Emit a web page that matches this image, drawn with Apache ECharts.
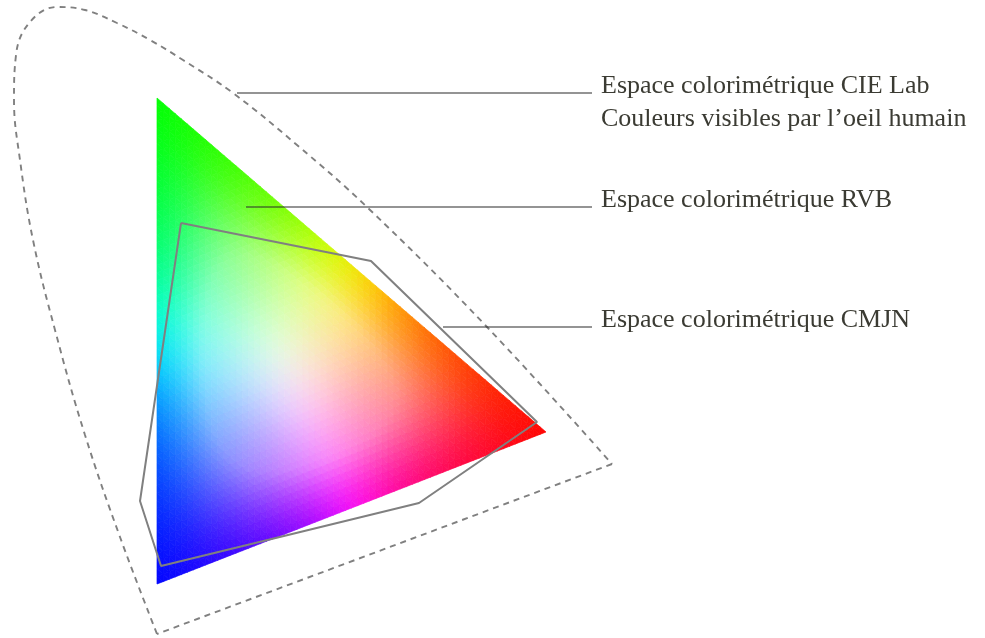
<!DOCTYPE html>
<html>
<head>
<meta charset="utf-8">
<script src="https://cdn.jsdelivr.net/npm/echarts@6/dist/echarts.min.js"></script>
<style>
  html, body { margin: 0; padding: 0; background: #fff; }
  #chart { width: 985px; height: 638px; }
</style>
</head>
<body>
<div id="chart"></div>
<script>
// plan de travail en pixels (axes cachés)
var W = 985, H = 638;

// sommets du triangle RVB : vert, rouge, bleu
var rvbVertices = [[157, 98], [546, 432], [157, 584]];

// contour CMJN
var cmjnPolygon = [[181, 223], [371, 261], [537, 422], [419, 503], [161, 566], [140, 501], [181, 223]];

// contour CIE Lab (partie courbe + base droite)
var labCurve = [
  [157, 634], [120, 537], [85, 435], [55, 330], [33, 240], [20, 160], [14, 100],
  [16, 55], [30, 22], [57, 7], [85, 10], [117, 23], [150, 40], [183, 60],
  [233, 93], [297, 145], [368, 208], [487, 327], [612, 464]
];
var labBase = [[612, 464], [157, 634]];

// traits de rappel et légendes
var leaderLab = [[237, 93], [592, 93]];
var leaderRvb = [[246, 207], [592, 207]];
var leaderCmjn = [[443, 327], [592, 327]];
var labelLab = 'Espace colorimétrique CIE Lab\nCouleurs visibles par l’oeil humain';
var labelRvb = 'Espace colorimétrique RVB';
var labelCmjn = 'Espace colorimétrique CMJN';

var textColor = '#3b3b33';
var fontFamily = '"Liberation Serif", "DejaVu Serif", serif';

// couleur normalisée (max = 1) pour des poids barycentriques
function pureColor(wr, wb) {
  var wg = 1 - wr - wb;
  wr = Math.max(wr, 0); wb = Math.max(wb, 0); wg = Math.max(wg, 0);
  var m = Math.max(wr, wg, wb) || 1;
  return [wr / m, wg / m, wb / m];
}

// moyenne sur un petit voisinage pour adoucir les arêtes,
// puis éclaircissement vers le centre (bords et sommets restent saturés)
function smoothColor(wr, wb) {
  var s = 0.035, acc = [0, 0, 0], n = 0;
  for (var a = -2; a <= 2; a++) {
    for (var b = -2; b <= 2; b++) {
      var c = pureColor(wr + a * s, wb + b * s);
      acc[0] += c[0]; acc[1] += c[1]; acc[2] += c[2]; n++;
    }
  }
  var wg = 1 - wr - wb;
  var p = 27 * Math.max(wr, 0) * Math.max(wg, 0) * Math.max(wb, 0);
  var gamma = 1 - 0.5 * Math.min(1, 1.6 * p);
  var out = acc.map(function (v) { return Math.round(Math.pow(v / n, gamma) * 255); });
  return 'rgb(' + out.join(',') + ')';
}

function renderGamut(params, api) {
  var N = 64;
  var g = rvbVertices[0], r = rvbVertices[1], b = rvbVertices[2];
  var children = [];
  function pt(i, j) {
    return api.coord([
      g[0] + (r[0] - g[0]) * i / N + (b[0] - g[0]) * j / N,
      g[1] + (r[1] - g[1]) * i / N + (b[1] - g[1]) * j / N
    ]);
  }
  for (var i = 0; i < N; i++) {
    for (var j = 0; i + j < N; j++) {
      var c = smoothColor((i + 1 / 3) / N, (j + 1 / 3) / N);
      children.push({
        type: 'polygon',
        shape: { points: [pt(i, j), pt(i + 1, j), pt(i, j + 1)] },
        style: { fill: c, stroke: c, lineWidth: 0.7 }
      });
      if (i + j + 2 <= N) {
        var c2 = smoothColor((i + 2 / 3) / N, (j + 2 / 3) / N);
        children.push({
          type: 'polygon',
          shape: { points: [pt(i + 1, j), pt(i + 1, j + 1), pt(i, j + 1)] },
          style: { fill: c2, stroke: c2, lineWidth: 0.7 }
        });
      }
    }
  }
  return { type: 'group', children: children };
}

function leaderSeries(data, text) {
  return {
    type: 'line',
    data: data,
    showSymbol: false,
    silent: true,
    z: 5,
    lineStyle: { color: '#2a2a2a', width: 1.2 },
    endLabel: {
      show: true,
      formatter: function () { return text; },
      color: textColor,
      fontFamily: fontFamily,
      fontSize: 26,
      lineHeight: 33,
      distance: 9,
      align: 'left',
      verticalAlign: 'top',
      offset: [0, -23]
    }
  };
}

var chart = echarts.init(document.getElementById('chart'));
chart.setOption({
  animation: false,
  backgroundColor: '#fff',
  grid: { left: 0, right: 0, top: 0, bottom: 0 },
  xAxis: { type: 'value', min: 0, max: W, show: false },
  yAxis: { type: 'value', min: 0, max: H, inverse: true, show: false },
  series: [
    {
      type: 'custom',
      silent: true,
      data: [[0, 0]],
      renderItem: renderGamut,
      z: 1
    },
    {
      type: 'line',
      data: labCurve,
      smooth: 0.4,
      showSymbol: false,
      silent: true,
      lineStyle: { color: '#808080', width: 1.9, type: [6, 5] },
      z: 3
    },
    {
      type: 'line',
      data: labBase,
      showSymbol: false,
      silent: true,
      lineStyle: { color: '#808080', width: 1.9, type: [6, 5] },
      z: 3
    },
    {
      type: 'line',
      data: cmjnPolygon,
      showSymbol: false,
      silent: true,
      lineStyle: { color: '#808080', width: 2 },
      z: 4
    },
    leaderSeries(leaderLab, labelLab),
    leaderSeries(leaderRvb, labelRvb),
    leaderSeries(leaderCmjn, labelCmjn)
  ]
});
</script>
</body>
</html>
